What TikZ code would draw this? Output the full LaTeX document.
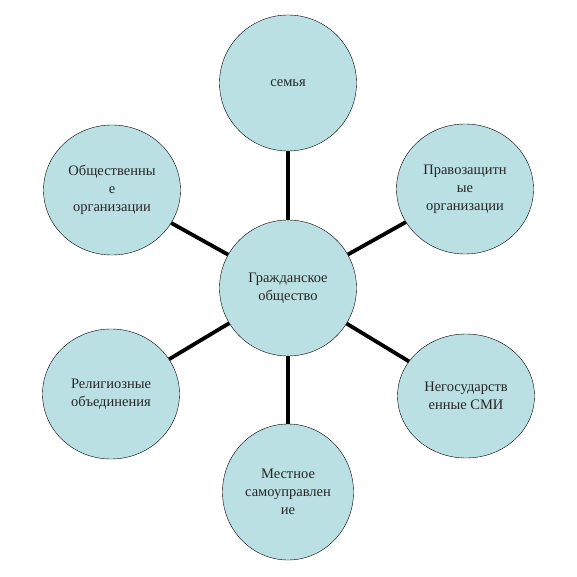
\documentclass[tikz,border=0pt]{standalone}
\usepackage{fontspec}
\setmainfont{Liberation Serif}
\usetikzlibrary{shapes,positioning}
\definecolor{bubblefill}{RGB}{187,224,227}

\begin{document}
\begin{tikzpicture}[x=1bp,y=-1bp,
    bubble/.style={draw,ellipse,fill=bubblefill,inner sep=0pt,
      minimum width=137bp,minimum height=130bp,align=center,
      font=\fontsize{14.5bp}{18bp}\selectfont,text=black!85},
    link/.style={line width=3.8bp}]
      \useasboundingbox (0,0) rectangle (577,577);
      \coordinate (g) at (288,288);
      \coordinate (s) at (288,83);
      \coordinate (o) at (112,190);
      \coordinate (p) at (465,189);
      \coordinate (r) at (111,394);
      \coordinate (n) at (466,396);
      \coordinate (m) at (288,492);

      \node[bubble,minimum height=136bp] (gc) at (g) {Гражданское\\общество};
      \node[bubble,minimum height=136bp] (sc) at (s) {семья};
      \node[bubble] (oc) at (o) {Общественны\\е\\организации};
      \node[bubble] (pc) at (p) {Правозащитн\\ые\\организации};
      \node[bubble] (rc) at (r) {Религиозные\\объединения};
      \node[bubble,minimum height=124bp] (nc) at (n) {Негосударств\\енные СМИ};
      \node[bubble,minimum width=131bp,minimum height=136bp] (mc) at (m) {Местное\\самоуправлен\\ие};

      \draw[link] (gc) -- (sc);
      \draw[link] (gc) -- (oc);
      \draw[link] (gc) -- (pc);
      \draw[link] (gc) -- (rc);
      \draw[link] (gc) -- (nc);
      \draw[link] (gc) -- (mc);
\end{tikzpicture}
\end{document}
